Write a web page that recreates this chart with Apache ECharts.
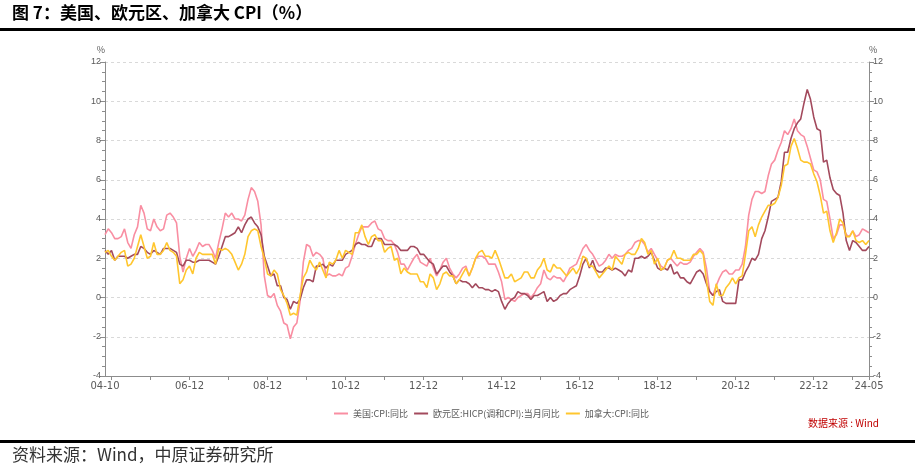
<!DOCTYPE html>
<html>
<head>
<meta charset="utf-8">
<title>美国、欧元区、加拿大 CPI</title>
<script src="https://cdn.jsdelivr.net/npm/echarts@6/dist/echarts.min.js"></script>
<style>
    html, body { margin: 0; padding: 0; background: #fff; }
    #main { width: 915px; height: 467px; }
</style>
</head>
<body>
<div id="main"></div>
<script>
    // 月度数据：2004-10 至 2024-05
    var startYear = 2004, startMonth = 10, monthCount = 236;
    var months = [];
    for (var i = 0; i < monthCount; i++) {
        var m = (startMonth - 1 + i) % 12 + 1;
        var y = startYear + Math.floor((startMonth - 1 + i) / 12);
        months.push(String(y).slice(2) + '-' + (m < 10 ? '0' + m : m));
    }

    var seriesNames = ['美国:CPI:同比', '欧元区:HICP(调和CPI):当月同比', '加拿大:CPI:同比'];
    var seriesColors = ['#F98EA2', '#A34A5D', '#FFC62E'];
    var yTicks = [-4, -2, 0, 2, 4, 6, 8, 10, 12];

    var usCpi = [
        3.2, 3.5, 3.3,
        3.0, 3.0, 3.1, 3.5, 2.8, 2.5, 3.2, 3.6, 4.7, 4.3, 3.5, 3.4,
        4.0, 3.6, 3.4, 3.5, 4.2, 4.3, 4.1, 3.8, 2.1, 1.3, 2.0, 2.5,
        2.1, 2.4, 2.8, 2.6, 2.7, 2.7, 2.4, 2.0, 2.8, 3.5, 4.3, 4.1,
        4.3, 4.0, 4.0, 3.9, 4.2, 5.0, 5.6, 5.4, 4.9, 3.7, 1.1, 0.1,
        0.0, 0.2, -0.4, -0.7, -1.3, -1.4, -2.1, -1.5, -1.3, -0.2, 1.8, 2.7,
        2.6, 2.1, 2.3, 2.2, 2.0, 1.1, 1.2, 1.1, 1.1, 1.2, 1.1, 1.5,
        1.6, 2.1, 2.7, 3.2, 3.6, 3.6, 3.6, 3.8, 3.9, 3.5, 3.4, 3.0,
        2.9, 2.9, 2.7, 2.3, 1.7, 1.7, 1.4, 1.7, 2.0, 2.2, 1.8, 1.7,
        1.6, 2.0, 1.5, 1.1, 1.4, 1.8, 2.0, 1.5, 1.2, 1.0, 1.2, 1.5,
        1.6, 1.1, 1.5, 2.0, 2.1, 2.1, 2.0, 1.7, 1.7, 1.7, 1.3, 0.8,
        -0.1, 0.0, -0.1, -0.2, 0.0, 0.1, 0.2, 0.2, 0.0, 0.2, 0.5, 0.7,
        1.4, 1.0, 0.9, 1.1, 1.0, 1.0, 0.8, 1.1, 1.5, 1.6, 1.7, 2.1,
        2.5, 2.7, 2.4, 2.2, 1.9, 1.6, 1.7, 1.9, 2.2, 2.0, 2.2, 2.1,
        2.1, 2.2, 2.4, 2.5, 2.8, 2.9, 2.9, 2.7, 2.3, 2.5, 2.2, 1.9,
        1.6, 1.5, 1.9, 2.0, 1.8, 1.6, 1.8, 1.7, 1.7, 1.8, 2.1, 2.3,
        2.5, 2.3, 1.5, 0.3, 0.1, 0.6, 1.0, 1.3, 1.4, 1.2, 1.2, 1.4,
        1.4, 1.7, 2.6, 4.2, 5.0, 5.4, 5.4, 5.3, 5.4, 6.2, 6.8, 7.0,
        7.5, 7.9, 8.5, 8.3, 8.6, 9.1, 8.5, 8.3, 8.2, 7.7, 7.1, 6.5,
        6.4, 6.0, 5.0, 4.9, 4.0, 3.0, 3.2, 3.7, 3.7, 3.2, 3.1, 3.4,
        3.1, 3.2, 3.5, 3.4, 3.3
    ];

    var euroHicp = [
        2.4, 2.2, 2.4,
        1.9, 2.1, 2.1, 2.1, 2.0, 2.1, 2.2, 2.2, 2.6, 2.5, 2.3, 2.2,
        2.4, 2.3, 2.2, 2.5, 2.5, 2.5, 2.4, 2.3, 1.7, 1.6, 1.9, 1.9,
        1.8, 1.8, 1.9, 1.9, 1.9, 1.9, 1.8, 1.7, 2.1, 2.6, 3.1, 3.1,
        3.2, 3.3, 3.6, 3.3, 3.7, 4.0, 4.1, 3.8, 3.6, 3.2, 2.1, 1.6,
        1.1, 1.2, 0.6, 0.6, 0.0, -0.1, -0.6, -0.2, -0.3, -0.1, 0.5, 0.9,
        0.9, 0.8, 1.6, 1.6, 1.7, 1.5, 1.7, 1.6, 1.9, 1.9, 1.9, 2.2,
        2.3, 2.4, 2.7, 2.8, 2.7, 2.7, 2.6, 2.6, 3.0, 3.0, 3.0, 2.7,
        2.7, 2.7, 2.7, 2.6, 2.4, 2.4, 2.4, 2.6, 2.6, 2.5, 2.2, 2.2,
        2.0, 1.8, 1.7, 1.2, 1.4, 1.6, 1.6, 1.3, 1.1, 0.7, 0.9, 0.8,
        0.8, 0.7, 0.5, 0.7, 0.5, 0.5, 0.4, 0.4, 0.3, 0.4, 0.3, -0.2,
        -0.6, -0.3, -0.1, 0.0, 0.3, 0.2, 0.2, 0.1, -0.1, 0.1, 0.1, 0.2,
        0.3, -0.2, 0.0, -0.2, -0.1, 0.1, 0.2, 0.2, 0.4, 0.5, 0.6, 1.1,
        1.7, 2.0, 1.5, 1.9, 1.4, 1.3, 1.3, 1.5, 1.5, 1.4, 1.5, 1.4,
        1.3, 1.1, 1.4, 1.3, 2.0, 2.0, 2.1, 2.0, 2.1, 2.3, 1.9, 1.5,
        1.4, 1.5, 1.4, 1.7, 1.2, 1.3, 1.0, 1.0, 0.8, 0.7, 1.0, 1.3,
        1.4, 1.2, 0.7, 0.3, 0.1, 0.3, 0.4, -0.2, -0.3, -0.3, -0.3, -0.3,
        0.9, 0.9, 1.3, 1.6, 2.0, 1.9, 2.2, 3.0, 3.4, 4.1, 4.9, 5.0,
        5.1, 5.9, 7.4, 7.4, 8.1, 8.6, 8.9, 9.1, 9.9, 10.6, 10.1, 9.2,
        8.6, 8.5, 6.9, 7.0, 6.1, 5.5, 5.3, 5.2, 4.3, 2.9, 2.4, 2.9,
        2.8, 2.6, 2.4, 2.4, 2.6
    ];

    var canadaCpi = [
        2.3, 2.4, 2.1,
        1.9, 2.1, 2.3, 2.4, 1.6, 1.7, 2.0, 2.6, 3.2, 2.6, 2.0, 2.1,
        2.8, 2.2, 2.2, 2.4, 2.8, 2.4, 2.3, 2.1, 0.7, 0.9, 1.4, 1.6,
        1.2, 2.0, 2.3, 2.2, 2.2, 2.2, 2.2, 1.7, 2.5, 2.4, 2.5, 2.4,
        2.2, 1.8, 1.4, 1.7, 2.2, 3.1, 3.4, 3.5, 3.4, 2.6, 2.0, 1.2,
        1.1, 1.4, 1.2, 0.4, 0.1, -0.3, -0.9, -0.8, -0.9, 0.1, 1.0, 1.3,
        1.9, 1.6, 1.4, 1.8, 1.4, 1.0, 1.8, 1.7, 1.9, 2.4, 2.0, 2.4,
        2.3, 2.2, 3.3, 3.3, 3.7, 3.1, 2.7, 3.1, 3.2, 2.9, 2.9, 2.3,
        2.5, 2.6, 1.9, 2.0, 1.2, 1.5, 1.3, 1.2, 1.2, 1.2, 0.8, 0.8,
        0.5, 1.2, 1.0, 0.4, 0.7, 1.2, 1.3, 1.1, 1.1, 0.7, 0.9, 1.2,
        1.5, 1.1, 1.5, 2.0, 2.3, 2.4, 2.1, 2.1, 2.0, 2.4, 2.0, 1.5,
        1.0, 1.0, 1.2, 0.8, 0.9, 1.0, 1.3, 1.3, 1.0, 1.0, 1.4, 1.6,
        2.0, 1.4, 1.3, 1.7, 1.5, 1.5, 1.3, 1.1, 1.3, 1.5, 1.2, 1.5,
        2.1, 2.0, 1.6, 1.6, 1.3, 1.0, 1.2, 1.4, 1.6, 1.4, 2.1, 1.9,
        1.7, 2.2, 2.3, 2.2, 2.2, 2.5, 3.0, 2.8, 2.2, 2.4, 1.7, 2.0,
        1.4, 1.5, 1.9, 2.0, 2.4, 2.0, 2.0, 1.9, 1.9, 1.9, 2.2, 2.2,
        2.4, 2.2, 0.9, -0.2, -0.4, 0.7, 0.1, 0.1, 0.5, 0.7, 1.0, 0.7,
        1.0, 1.1, 2.2, 3.4, 3.6, 3.1, 3.7, 4.1, 4.4, 4.7, 4.7, 4.8,
        5.1, 5.7, 6.7, 6.8, 7.7, 8.1, 7.6, 7.0, 6.9, 6.9, 6.8, 6.3,
        5.9, 5.2, 4.3, 4.4, 3.4, 2.8, 3.3, 4.0, 3.8, 3.1, 3.1, 3.4,
        2.9, 2.8, 2.9, 2.7, 2.9
    ];

    var seriesData = [usCpi, euroHicp, canadaCpi];
    var lastIndex = months.length - 1;

    // 刻度：每年12月及最后一个月；标签：首月、06年起偶数年12月、最后一个月
    function isTick(index, value) {
        return value.slice(3) === '12' || index === lastIndex;
    }
    function isLabel(index, value) {
        if (index === 0 || index === lastIndex) return true;
        return index > 12 && value.slice(3) === '12' && parseInt(value.slice(0, 2), 10) % 2 === 0;
    }

    var axisGrey = '#8C8C8C';
    var textGrey = '#595959';

    function valueAxis(position) {
        return {
            type: 'value',
            position: position,
            min: yTicks[0],
            max: yTicks[yTicks.length - 1],
            interval: 2,
            name: '%',
            nameGap: 8,
            nameTextStyle: { color: textGrey, fontSize: 9, align: position === 'left' ? 'right' : 'left' },
            axisLine: { show: true, lineStyle: { color: axisGrey, width: 1 } },
            axisTick: { show: true, length: 5, lineStyle: { color: axisGrey } },
            minorTick: { show: true, splitNumber: 4, length: 3, lineStyle: { color: axisGrey } },
            axisLabel: { color: textGrey, fontSize: 9, margin: 4, fontFamily: 'Arial, "Liberation Sans", sans-serif' },
            splitLine: { show: position === 'left', lineStyle: { color: '#D9D9D9', type: [3, 3], width: 1 } }
        };
    }

    var chart = echarts.init(document.getElementById('main'));
    chart.setOption({
        backgroundColor: '#fff',
        animation: false,
        textStyle: { fontFamily: '"Noto Sans CJK SC", sans-serif' },
        grid: { left: 105, right: 46, top: 62, bottom: 91 },
        legend: {
            left: 329,
            top: 404,
            itemWidth: 14,
            itemHeight: 2,
            itemGap: 6,
            icon: 'rect',
            textStyle: { color: textGrey, fontSize: 9 },
            data: seriesNames
        },
        xAxis: {
            type: 'category',
            boundaryGap: false,
            data: months,
            axisLine: { onZero: false, lineStyle: { color: axisGrey, width: 1 } },
            axisTick: { show: true, interval: isTick, length: 4, lineStyle: { color: axisGrey } },
            axisLabel: { interval: isLabel, color: textGrey, fontSize: 10, margin: 5,
                fontFamily: '"DejaVu Sans", sans-serif' },
            splitLine: { show: false }
        },
        yAxis: [valueAxis('left'), valueAxis('right')],
        series: seriesData.map(function (d, k) {
            return {
                name: seriesNames[k],
                type: 'line',
                data: d,
                yAxisIndex: 0,
                symbol: 'none',
                smooth: false,
                lineStyle: { width: 1.6, color: seriesColors[k] },
                itemStyle: { color: seriesColors[k] }
            };
        }),
        graphic: [
            { type: 'text', left: 12, top: 4,
              style: { text: '图 7：美国、欧元区、加拿大 CPI（%）', fill: '#000',
                       font: 'bold 17px "Noto Sans CJK SC", sans-serif' } },
            { type: 'rect', shape: { x: 0, y: 28, width: 915, height: 3 }, style: { fill: '#000' } },
            { type: 'text', right: 36, top: 418,
              style: { text: '数据来源 : Wind', fill: '#C00000',
                       font: '10px "Noto Sans CJK SC", sans-serif' } },
            { type: 'rect', shape: { x: 0, y: 440, width: 915, height: 3 }, style: { fill: '#000' } },
            { type: 'text', left: 12, top: 446,
              style: { text: '资料来源：Wind，中原证券研究所', fill: '#333',
                       font: '17px "Noto Sans CJK SC", sans-serif' } }
        ]
    });
</script>
</body>
</html>
